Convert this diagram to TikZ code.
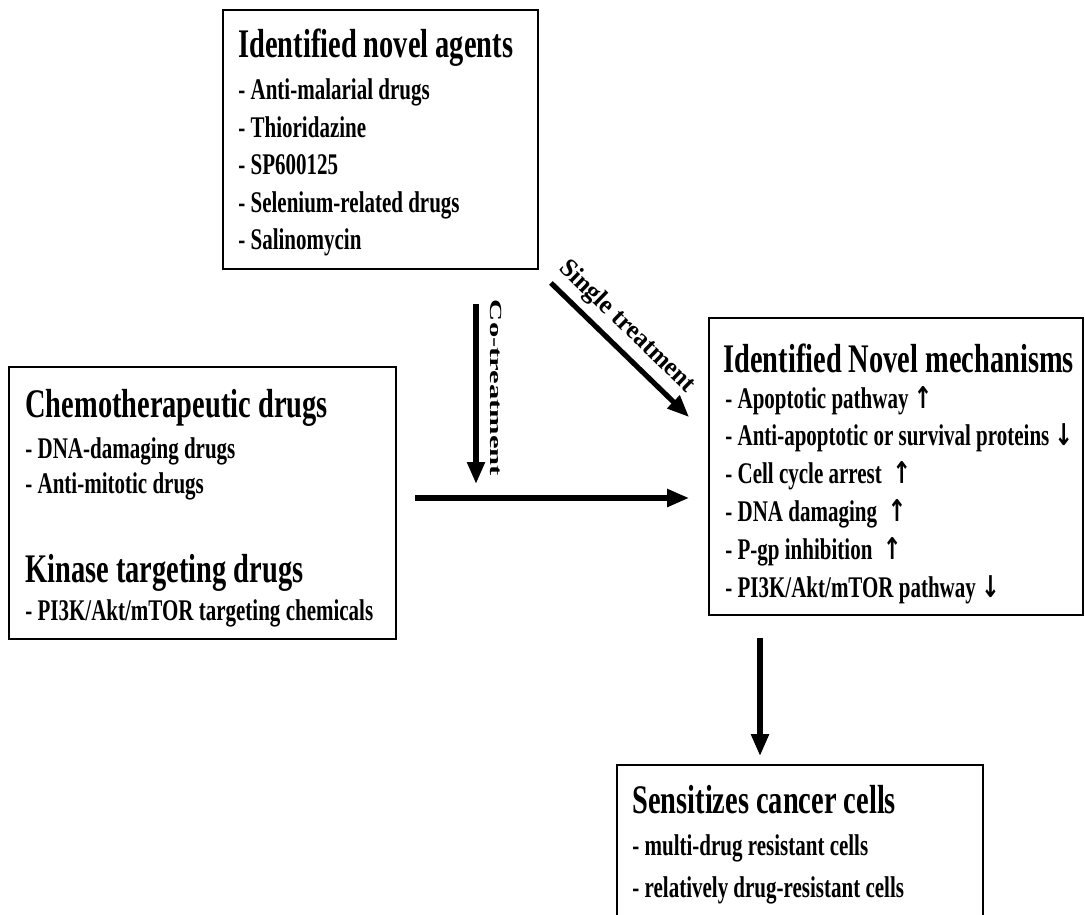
\documentclass[tikz,border=0pt]{standalone}
\usepackage{fontspec}
\setmainfont[FakeStretch=0.7]{Liberation Serif}
\newfontfamily\cofont[FakeStretch=1.8]{Liberation Serif}
\newfontfamily\singlefont[FakeStretch=0.97]{Liberation Serif}
\newfontfamily\arrowfont[FakeStretch=0.75]{DejaVu Sans}
\usetikzlibrary{arrows.meta, fit}
\newcommand{\arrup}{{\arrowfont\bfseries ↑}}
\newcommand{\arrdn}{{\arrowfont\bfseries ↓}}
\begin{document}
\begin{tikzpicture}[x=0.5pt, y=-0.5pt,
    box/.style={draw, line width=0.9pt, inner sep=0pt},
    head/.style={anchor=base west, inner sep=0pt, font=\bfseries\fontsize{20.3}{24}\selectfont},
    item/.style={anchor=base west, inner sep=0pt, font=\bfseries\fontsize{15}{18}\selectfont},
    fat/.style={line width=2.6pt, -{Triangle[length=11pt, width=8.5pt]}}]
    \useasboundingbox (0,0) rectangle (1085,914);
    \clip (0,0) rectangle (1085,914);

        % Novel agents.
        \node[box, fit={(223,10) (538,269)}] (agents) {};
        \node[head] (A-0) at (238,58) {Identified novel agents};
        \foreach \txt [count=\i] in {Anti-malarial drugs, Thioridazine, SP600125, Selenium-related drugs, Salinomycin}
            \node[item] (A-\i) at (238,{100+37.5*(\i-1)}) {- \txt};

        % Chemotherapeutic and kinase drugs.
        \node[box, fit={(9,367) (396,639)}] (chemo) {};
        \node[head] (C-0) at (25,417) {Chemotherapeutic drugs};
        \foreach \txt [count=\i] in {DNA-damaging drugs, Anti-mitotic drugs}
            \node[item] (C-\i) at (25,{458+35*(\i-1)}) {- \txt};
        \node[head] (K-0) at (25,582) {Kinase targeting drugs};
        \node[item] (K-1) at (25,620) {- PI3K/Akt/mTOR targeting chemicals};

        % Novel mechanisms.
        \node[box, fit={(709,318) (1083,615)}] (mech) {};
        \node[head] (M-0) at (723,372) {Identified Novel mechanisms};
        \foreach \txt [count=\i] in {Apoptotic pathway\,\arrup, Anti-apoptotic or survival proteins\,\arrdn, Cell cycle arrest\ \ \arrup, DNA damaging\ \ \arrup, P-gp inhibition\ \ \arrup, PI3K/Akt/mTOR pathway\ \arrdn}
            \node[item] (M-\i) at (725,{408+37.8*(\i-1)}) {- \txt};

        % Sensitized cells.
        \node[box, fit={(617,765) (983,940)}] (sens) {};
        \node[head] (S-0) at (632,813) {Sensitizes cancer cells};
        \foreach \txt [count=\i] in {multi-drug resistant cells, relatively drug-resistant cells}
            \node[item] (S-\i) at (632,{855+42*(\i-1)}) {- \txt};

        % Arrows.
        \coordinate (H) at (0,498);
        \coordinate (CO) at (476,0);
        \coordinate (D) at (760,0);
        \draw[fat, shorten <=17pt, shorten >=7pt] (agents.south -| CO) -- (CO |- H);
        \draw[fat, shorten <=9pt, shorten >=9.5pt] (chemo.east |- H) -- (mech.west |- H);
        \draw[fat] ([shift={(12,13)}]agents.south east) -- ([shift={(-19,100)}]mech.north west);
        \draw[fat, shorten <=11pt, shorten >=4pt] (mech.south -| D) -- (sens.north -| D);
        \node[rotate=-90, font=\cofont\bfseries\fontsize{8.5}{10}\selectfont] (co-lab) at (496,388) {Co-treatment};
        \node[rotate=-44, font=\singlefont\bfseries\fontsize{13}{15}\selectfont] (single-lab) at (627,327) {Single treatment};

\end{tikzpicture}
\end{document}
